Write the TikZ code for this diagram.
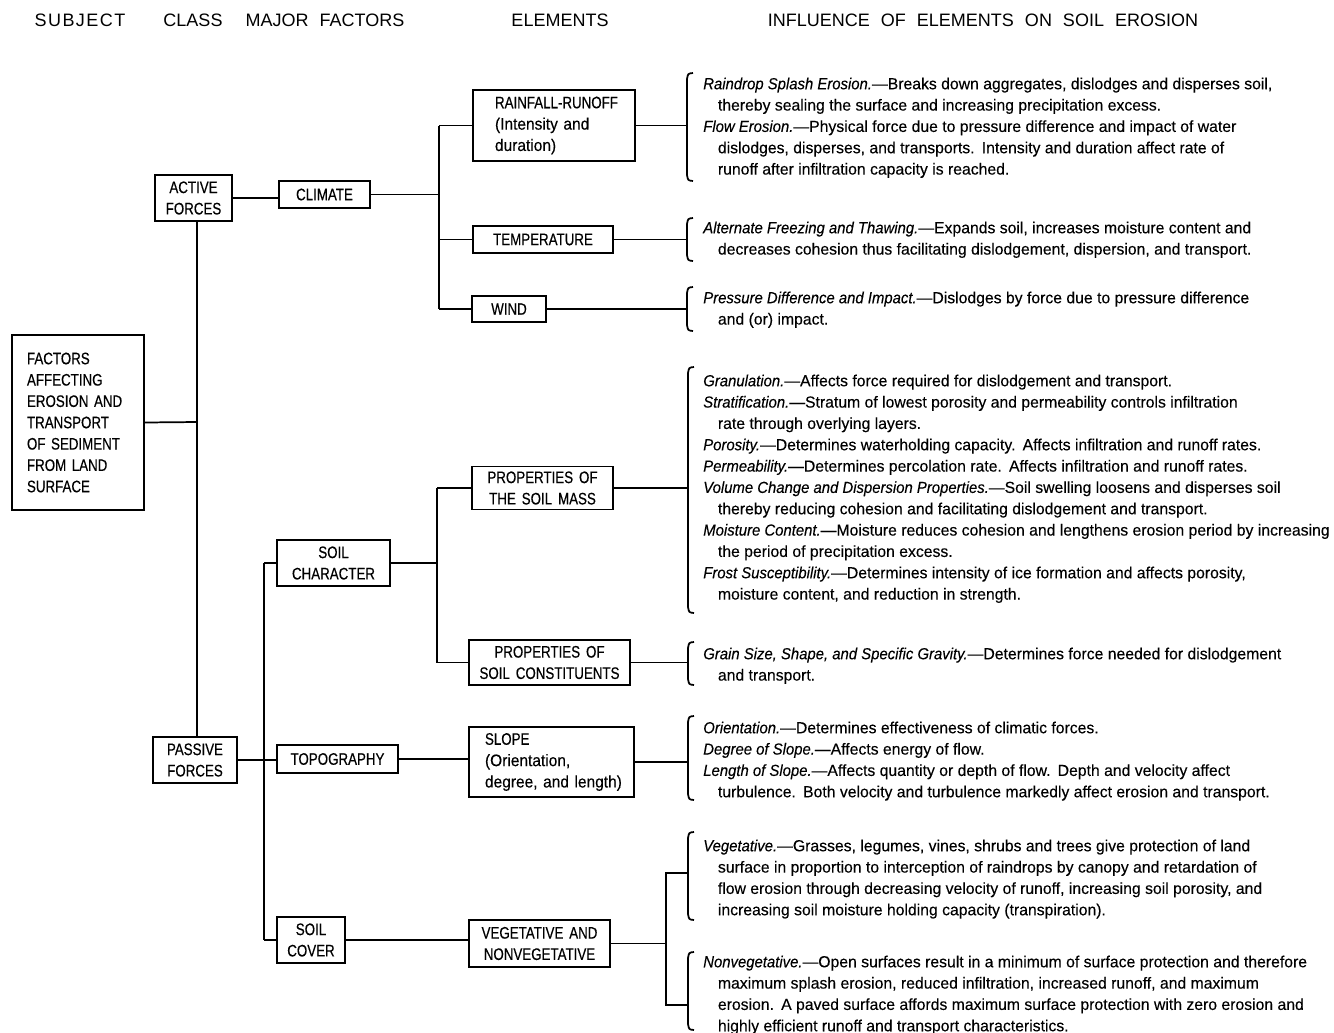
\documentclass[tikz,border=0pt]{standalone}
\usepackage{fontspec}
\setmainfont{Liberation Sans}[FakeStretch=0.985, FakeBold=0.2, ItalicFeatures={FakeStretch=0.93}]
\newfontfamily\capf{Liberation Sans}[FakeStretch=0.8, WordSpace=1.6, FakeBold=0.35]
\newfontfamily\lcf{Liberation Sans}[FakeStretch=0.93, FakeBold=0.25]
\newfontfamily\hdrf{Liberation Sans}[WordSpace=2.2]
\newcommand\brc[3]{\draw[ln] (#1+6,#2) .. controls (#1+1,#2+0.5) .. (#1,#2+6) -- (#1,#3-6) .. controls (#1+1,#3-0.5) .. (#1+6,#3);}
\newcommand\ind{\hspace*{11pt}}
\newcommand\sep{\hspace{0.45em}}
\begin{document}
\begin{tikzpicture}[x=0.75pt,y=-0.75pt]
\tikzset{
 bx/.style={draw, line width=1.3pt, inner sep=0pt, font=\capf\fontsize{12.5}{16}\selectfont, align=center},
 sz/.style 2 args={minimum width=#1*0.75pt, minimum height=#2*0.75pt},
 ln/.style={line width=1.3pt},
 txt/.style={anchor=north west, inner sep=0pt, align=left, font=\fontsize{12}{16}\selectfont},
 hdr/.style={anchor=base, inner sep=0pt, font=\hdrf\fontsize{13.5}{16}\selectfont},
}
\fill[white] (0,0) rectangle (1334,1032);
\useasboundingbox (0,0) rectangle (1334,1032);

% headers
\node[hdr] (hsubj) at (80,26) {\addfontfeatures{LetterSpace=8}SUBJECT};
\node[hdr] (hclass) at (193,26) {CLASS};
\node[hdr] (hmajor) at (325,26) {MAJOR FACTORS};
\node[hdr] (helem) at (560,26) {ELEMENTS};
\node[hdr] (hinfl) at (983,26) {INFLUENCE OF ELEMENTS ON SOIL EROSION};

% boxes
\node[bx, sz={132}{175}, text width=76.5pt, align=left, inner xsep=11.25pt] (factors) at (78,422.5)
 {\mbox{FACTORS}\\\mbox{AFFECTING}\\\mbox{EROSION AND}\\\mbox{TRANSPORT}\\\mbox{OF SEDIMENT}\\\mbox{FROM LAND}\\\mbox{SURFACE}};
\node[bx, sz={77}{46}] (active) at (193.5,198) {ACTIVE\\FORCES};
\node[bx, sz={84}{46}] (passive) at (195,760) {PASSIVE\\FORCES};
\node[bx, sz={91}{27}] (climate) at (324.5,194.5) {CLIMATE};
\node[bx, sz={113}{46}] (soilchar) at (333.5,563) {SOIL\\CHARACTER};
\node[bx, sz={121}{28}] (topo) at (337.5,759) {TOPOGRAPHY};
\node[bx, sz={68}{46}] (soilcover) at (311,940) {SOIL\\COVER};
\node[bx, sz={162}{71}, text width=88.5pt, align=left, inner xsep=16.5pt] (rainfall) at (554,125.5)
 {\mbox{RAINFALL-RUNOFF}\\\mbox{\lcf(Intensity and}\\\mbox{\lcf duration)}};
\node[bx, sz={140}{27}] (temp) at (543,239.5) {TEMPERATURE};
\node[bx, sz={74}{26}] (wind) at (509,309) {WIND};
\node[bx, sz={141}{43}] (soilmass) at (542.5,488) {PROPERTIES OF\\THE SOIL MASS};
\node[bx, sz={161}{45}] (constit) at (549.5,662.5) {PROPERTIES OF\\SOIL CONSTITUENTS};
\node[bx, sz={165}{70}, text width=99.75pt, align=left, inner xsep=12pt] (slope) at (551.5,762)
 {\mbox{SLOPE}\\\mbox{\lcf(Orientation,}\\\mbox{\lcf degree, and length)}};
\node[bx, sz={141}{47}] (veg) at (539.5,943.5) {VEGETATIVE AND\\NONVEGETATIVE};

% junction coordinates
\coordinate (j0) at (197,422);
\coordinate (jc) at (439,0);
\coordinate (js) at (437,0);
\coordinate (jp) at (264,0);
\coordinate (b1) at (687,127);
\coordinate (b2) at (687,240);
\coordinate (b3) at (687,309);
\coordinate (b4) at (688,489);
\coordinate (b5) at (688,662);
\coordinate (b6) at (688,760);
\coordinate (b7) at (688,873);
\coordinate (b8) at (688,1005);
\coordinate (v1) at (666,873);
\coordinate (v2) at (666,1005);

% connectors
\draw[ln] (factors.east) -- (j0);
\draw[ln] (active.south -| j0) -- (passive.north -| j0);
\draw[ln] (active.east) -- (active.east -| climate.west);
\draw[ln] (climate.east) -- (climate.east -| jc);
\draw[ln] (rainfall.west -| jc) -- (wind.west -| jc);
\draw[ln] (rainfall.west -| jc) -- (rainfall.west);
\draw[ln] (temp.west -| jc) -- (temp.west);
\draw[ln] (wind.west -| jc) -- (wind.west);
\draw[ln] (rainfall.east) -- (rainfall.east -| b1);
\draw[ln] (temp.east) -- (temp.east -| b2);
\draw[ln] (wind.east) -- (wind.east -| b3);
\draw[ln] (soilchar.east) -- (soilchar.east -| js);
\draw[ln] (soilmass.west -| js) -- (constit.west -| js);
\draw[ln] (soilmass.west -| js) -- (soilmass.west);
\draw[ln] (constit.west -| js) -- (constit.west);
\draw[ln] (soilmass.east) -- (soilmass.east -| b4);
\draw[ln] (constit.east) -- (constit.east -| b5);
\draw[ln] (soilchar.west -| jp) -- (soilcover.west -| jp);
\draw[ln] (soilchar.west -| jp) -- (soilchar.west);
\draw[ln] (soilcover.west -| jp) -- (soilcover.west);
\draw[ln] (passive.east) -- (passive.east -| topo.west);
\draw[ln] (topo.east) -- (topo.east -| slope.west);
\draw[ln] (slope.east) -- (slope.east -| b6);
\draw[ln] (soilcover.east) -- (soilcover.east -| veg.west);
\draw[ln] (veg.east) -- (veg.east -| v1);
\draw[ln] (b7) -- (v1) -- (v2) -- (b8);

% braces
\brc{687}{73}{181}
\brc{687}{218}{261}
\brc{687}{287}{331}
\brc{688}{367}{613}
\brc{688}{642}{685}
\brc{688}{716}{800}
\brc{688}{832}{920}
\brc{688}{952}{1030}

% influence texts
\node[txt] (t1) at (703,74.3) {\rule{0pt}{11pt}\textit{Raindrop Splash Erosion.}\textemdash Breaks down aggregates, dislodges and disperses soil,\\
\ind thereby sealing the surface and increasing precipitation excess.\\
\textit{Flow Erosion.}\textemdash Physical force due to pressure difference and impact of water\\
\ind dislodges, disperses, and transports.\sep Intensity and duration affect rate of\\
\ind runoff after infiltration capacity is reached.};
\node[txt] (t2) at (703,218.3) {\rule{0pt}{11pt}\textit{Alternate Freezing and Thawing.}\textemdash Expands soil, increases moisture content and\\
\ind decreases cohesion thus facilitating dislodgement, dispersion, and transport.};
\node[txt] (t3) at (703,288.3) {\rule{0pt}{11pt}\textit{Pressure Difference and Impact.}\textemdash Dislodges by force due to pressure difference\\
\ind and (or) impact.};
\node[txt] (t4) at (703,371.3) {\rule{0pt}{11pt}\textit{Granulation.}\textemdash Affects force required for dislodgement and transport.\\
\textit{Stratification.}\textemdash Stratum of lowest porosity and permeability controls infiltration\\
\ind rate through overlying layers.\\
\textit{Porosity.}\textemdash Determines waterholding capacity.\sep Affects infiltration and runoff rates.\\
\textit{Permeability.}\textemdash Determines percolation rate.\sep Affects infiltration and runoff rates.\\
\textit{Volume Change and Dispersion Properties.}\textemdash Soil swelling loosens and disperses soil\\
\ind thereby reducing cohesion and facilitating dislodgement and transport.\\
\textit{Moisture Content.}\textemdash Moisture reduces cohesion and lengthens erosion period by increasing\\
\ind the period of precipitation excess.\\
\textit{Frost Susceptibility.}\textemdash Determines intensity of ice formation and affects porosity,\\
\ind moisture content, and reduction in strength.};
\node[txt] (t5) at (703,644.3) {\rule{0pt}{11pt}\textit{Grain Size, Shape, and Specific Gravity.}\textemdash Determines force needed for dislodgement\\
\ind and transport.};
\node[txt] (t6) at (703,718.3) {\rule{0pt}{11pt}\textit{Orientation.}\textemdash Determines effectiveness of climatic forces.\\
\textit{Degree of Slope.}\textemdash Affects energy of flow.\\
\textit{Length of Slope.}\textemdash Affects quantity or depth of flow.\sep Depth and velocity affect\\
\ind turbulence.\sep Both velocity and turbulence markedly affect erosion and transport.};
\node[txt] (t7) at (703,836.3) {\rule{0pt}{11pt}\textit{Vegetative.}\textemdash Grasses, legumes, vines, shrubs and trees give protection of land\\
\ind surface in proportion to interception of raindrops by canopy and retardation of\\
\ind flow erosion through decreasing velocity of runoff, increasing soil porosity, and\\
\ind increasing soil moisture holding capacity (transpiration).};
\node[txt] (t8) at (703,952.3) {\rule{0pt}{11pt}\textit{Nonvegetative.}\textemdash Open surfaces result in a minimum of surface protection and therefore\\
\ind maximum splash erosion, reduced infiltration, increased runoff, and maximum\\
\ind erosion.\sep A paved surface affords maximum surface protection with zero erosion and\\
\ind highly efficient runoff and transport characteristics.};
\end{tikzpicture}
\end{document}
